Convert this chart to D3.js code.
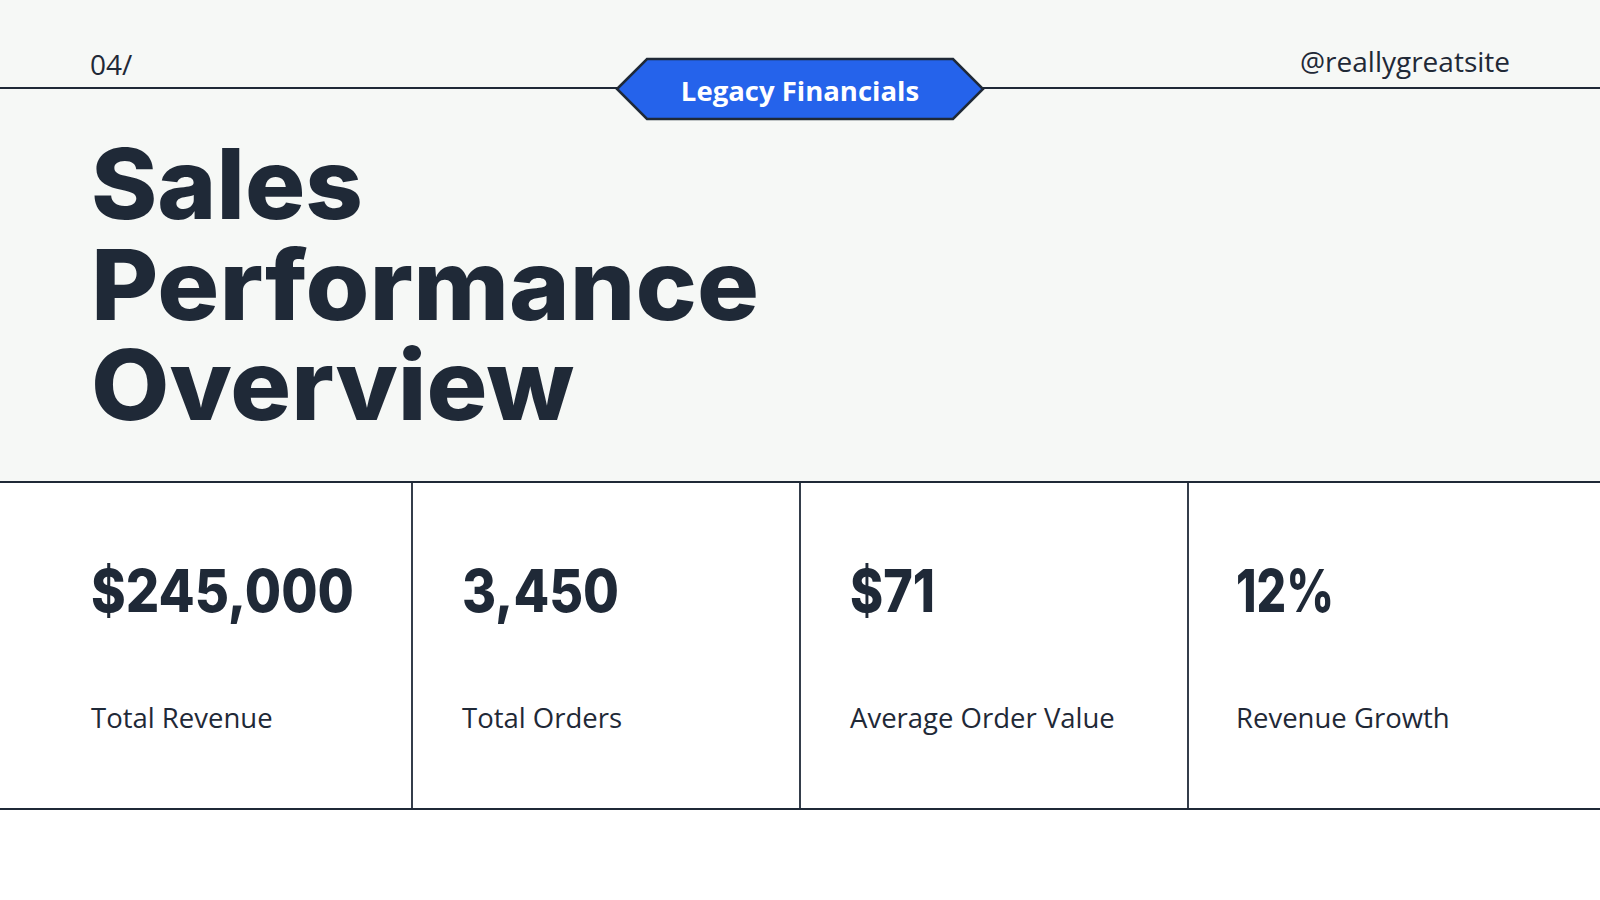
<!DOCTYPE html>
<html>
<head>
<meta charset="utf-8">
<script src="https://cdn.jsdelivr.net/npm/d3@7"></script>
<style>
  html, body { margin: 0; padding: 0; background: #ffffff; }
  svg { display: block; }
</style>
</head>
<body>
<svg id="chart" width="1600" height="900"></svg>
<script>
// slide data
var pageNumber = "04/";
var siteHandle = "@reallygreatsite";
var badgeLabel = "Legacy Financials";
var titleLines = ["Sales", "Performance", "Overview"];

var kpiNames  = ["Total Revenue", "Total Orders", "Average Order Value", "Revenue Growth"];
var kpiValues = [245000, 3450, 71, 0.12];
var kpiFormats = ["$,", ",", "$", ".0%"];

var width = 1600,
    height = 900,
    ink = "#1f2937",
    paper = "#f6f8f6",
    blue = "#2563eb",
    margin = 92;

var svg = d3.select("#chart");

// light header block
svg.append("rect")
    .attr("width", width)
    .attr("height", 482)
    .attr("fill", paper);

svg.append("rect")
    .attr("y", 482)
    .attr("width", width)
    .attr("height", height - 482)
    .attr("fill", "#ffffff");

// top rule
svg.append("line")
    .attr("x1", 0).attr("x2", width)
    .attr("y1", 88).attr("y2", 88)
    .attr("stroke", ink)
    .attr("stroke-width", 2);

svg.append("text")
    .attr("x", margin - 2)
    .attr("y", 75)
    .attr("font-family", "Open Sans")
    .attr("font-size", 28)
    .attr("fill", ink)
    .text(pageNumber);

svg.append("text")
    .attr("x", 1510)
    .attr("y", 72)
    .attr("text-anchor", "end")
    .attr("font-family", "Open Sans")
    .attr("font-size", 28)
    .attr("fill", ink)
    .text(siteHandle);

// hexagon badge
var bx = width / 2, by = 89, halfW = 183, halfH = 30, tip = 30;
var badge = svg.append("g").attr("transform", "translate(" + bx + "," + by + ")");

badge.append("path")
    .attr("d", d3.line()([
      [-halfW, 0], [-halfW + tip, -halfH], [halfW - tip, -halfH],
      [halfW, 0], [halfW - tip, halfH], [-halfW + tip, halfH]
    ]) + "Z")
    .attr("fill", blue)
    .attr("stroke", ink)
    .attr("stroke-width", 2.5)
    .attr("stroke-linejoin", "miter");

badge.append("text")
    .attr("y", 12)
    .attr("text-anchor", "middle")
    .attr("font-family", "Open Sans")
    .attr("font-weight", 700)
    .attr("font-size", 27.5)
    .attr("fill", "#ffffff")
    .text(badgeLabel);

// big title
var titleWidths = [272, 668, 483];

svg.append("g")
    .selectAll("text")
    .data(titleLines)
    .enter()
  .append("text")
    .attr("x", margin - 1)
    .attr("y", function(d, i) { return 219 + i * 100.5; })
    .attr("font-family", "Inter")
    .attr("font-weight", 800)
    .attr("font-size", 98)
    .attr("fill", ink)
    .attr("textLength", function(d, i) { return titleWidths[i]; })
    .attr("lengthAdjust", "spacingAndGlyphs")
    .text(function(d) { return d; });

// KPI strip
var col = d3.scaleLinear()
    .domain([0, 1])
    .range([24, 412]);

var strip = svg.append("g");

strip.selectAll(".divider")
    .data(d3.range(1, kpiNames.length))
    .enter()
  .append("line")
    .attr("class", "divider")
    .attr("x1", function(d) { return col(d); })
    .attr("x2", function(d) { return col(d); })
    .attr("y1", 482).attr("y2", 809)
    .attr("stroke", ink)
    .attr("stroke-width", 1.8);

strip.selectAll(".rule")
    .data([482, 809])
    .enter()
  .append("line")
    .attr("class", "rule")
    .attr("x1", 0).attr("x2", width)
    .attr("y1", function(d) { return d; })
    .attr("y2", function(d) { return d; })
    .attr("stroke", ink)
    .attr("stroke-width", 2);

var valueWidths = [263, 157, 85, 98];
var textX = function(i) { return i === 0 ? margin - 1 : col(i) + (i === 3 ? 48 : 50); };

var cells = strip.selectAll(".kpi")
    .data(kpiNames)
    .enter()
  .append("g")
    .attr("class", "kpi")
    .attr("transform", function(d, i) { return "translate(" + textX(i) + ",0)"; });

cells.append("text")
    .attr("y", 612)
    .attr("font-family", "Inter")
    .attr("font-weight", 800)
    .attr("font-size", 59)
    .attr("fill", ink)
    .attr("textLength", function(d, i) { return valueWidths[i]; })
    .attr("lengthAdjust", "spacingAndGlyphs")
    .text(function(d, i) { return d3.format(kpiFormats[i])(kpiValues[i]); });

cells.append("text")
    .attr("y", 728)
    .attr("font-family", "Open Sans")
    .attr("font-size", 27.5)
    .attr("fill", ink)
    .text(function(d) { return d; });
</script>
</body>
</html>
